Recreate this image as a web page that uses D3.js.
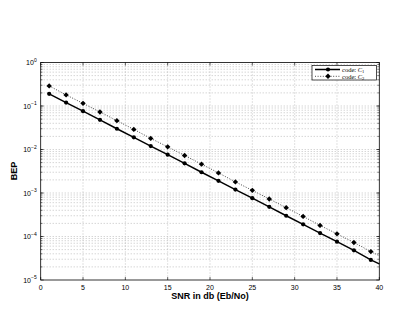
<!DOCTYPE html>
<html><head><meta charset="utf-8">
<script src="https://cdn.jsdelivr.net/npm/d3@7"></script>
<style>body{margin:0;background:#fff}svg{display:block}</style>
</head><body><svg id="c" width="415" height="312"></svg>
<script>
const snr = [1,3,5,7,9,11,13,15,17,19,21,23,25,27,29,31,33,35,37,39,40];
const bepC1 = [0.19,0.12,0.076,0.048,0.030,0.019,0.012,0.0076,0.0048,0.0030,0.0019,0.0012,7.6e-4,4.8e-4,3.0e-4,1.9e-4,1.2e-4,7.6e-5,4.8e-5,2.9e-5,2.35e-5];
const bepC2 = [0.29,0.18,0.115,0.073,0.046,0.029,0.018,0.0115,0.0073,0.0046,0.0029,0.0018,1.15e-3,7.3e-4,4.6e-4,2.9e-4,1.8e-4,1.15e-4,7.3e-5,4.5e-5,3.6e-5];
const xTicks = [0,5,10,15,20,25,30,35,40];
const yExps = [0,-1,-2,-3,-4,-5];
const seriesNames = ["C","C"];
const seriesSubs = ["1","2"];

const svg = d3.select("#c");
const L=40.7, R=379.3, T=62.5, B=280;
const x = d3.scaleLinear().domain([0,40]).range([L,R]);
const y = d3.scaleLog().domain([1e-5,1]).range([B,T]);

// grid
const g = svg.append("g");
xTicks.slice(1,-1).forEach(v=>{
  g.append("line").attr("x1",x(v)).attr("x2",x(v)).attr("y1",T).attr("y2",B)
   .attr("stroke","#aaa").attr("stroke-width",0.7).attr("stroke-dasharray","1,2");
});
const minorVals=[];
for(let e=-5;e<0;e++){for(let m=1;m<10;m++){const v=m*Math.pow(10,e); if(v>1e-5) minorVals.push(v);}}
minorVals.forEach(v=>{
  g.append("line").attr("x1",L).attr("x2",R).attr("y1",y(v)).attr("y2",y(v))
   .attr("stroke","#aaa").attr("stroke-width",0.7).attr("stroke-dasharray","1,2");
});

// axes box
svg.append("rect").attr("x",L).attr("y",T).attr("width",R-L).attr("height",B-T)
 .attr("fill","none").attr("stroke","#000").attr("stroke-width",0.8);

// x ticks
const xa = svg.append("g");
xTicks.forEach(v=>{
  xa.append("line").attr("x1",x(v)).attr("x2",x(v)).attr("y1",B).attr("y2",B-3).attr("stroke","#000").attr("stroke-width",0.6);
  xa.append("line").attr("x1",x(v)).attr("x2",x(v)).attr("y1",T).attr("y2",T+3).attr("stroke","#000").attr("stroke-width",0.6);
  xa.append("text").attr("x",x(v)).attr("y",B+10).attr("text-anchor","middle")
    .attr("font-family","Liberation Sans, Arial, sans-serif").attr("font-size",7).text(v);
});
// y ticks
const ya = svg.append("g");
yExps.forEach(e=>{
  const v=Math.pow(10,e);
  ya.append("line").attr("x1",L).attr("x2",L+3).attr("y1",y(v)).attr("y2",y(v)).attr("stroke","#000").attr("stroke-width",0.6);
  ya.append("line").attr("x1",R).attr("x2",R-3).attr("y1",y(v)).attr("y2",y(v)).attr("stroke","#000").attr("stroke-width",0.6);
  const t = ya.append("text").attr("x",L-4).attr("y",y(v)+2.5).attr("text-anchor","end")
    .attr("font-family","Liberation Sans, Arial, sans-serif").attr("font-size",7);
  t.append("tspan").text("10");
  t.append("tspan").attr("dy",-3.5).attr("font-size",5).text(String(e).replace("-","\u2212"));
});
minorVals.forEach(v=>{
  ya.append("line").attr("x1",L).attr("x2",L+1.8).attr("y1",y(v)).attr("y2",y(v)).attr("stroke","#000").attr("stroke-width",0.5);
  ya.append("line").attr("x1",R).attr("x2",R-1.8).attr("y1",y(v)).attr("y2",y(v)).attr("stroke","#000").attr("stroke-width",0.5);
});

// series
const pts1 = snr.map((s,i)=>[s,bepC1[i]]);
const pts2 = snr.map((s,i)=>[s,bepC2[i]]);
const line = d3.line().x(d=>x(d[0])).y(d=>y(d[1]));
svg.append("path").datum(pts2).attr("d",line).attr("fill","none").attr("stroke","#333").attr("stroke-width",0.9).attr("stroke-dasharray","1,1.6");
svg.append("path").datum(pts1).attr("d",line).attr("fill","none").attr("stroke","#000").attr("stroke-width",1.5);
const mk1 = pts1.filter(d=>d[0]%2===1);
const mk2 = pts2.filter(d=>d[0]%2===1);
svg.selectAll(".m1").data(mk1).enter().append("circle").attr("cx",d=>x(d[0])).attr("cy",d=>y(d[1])).attr("r",2.1).attr("fill","#000");
const dia = "M0,-2.7L2.7,0L0,2.7L-2.7,0Z";
svg.selectAll(".m2").data(mk2).enter().append("path").attr("d",dia).attr("transform",d=>`translate(${x(d[0])},${y(d[1])})`).attr("fill","#000");

// legend
const lg = svg.append("g");
lg.append("rect").attr("x",312).attr("y",65.5).attr("width",64.5).attr("height",14.5).attr("fill","#fff").attr("stroke","#000").attr("stroke-width",0.7);
[0,1].forEach(i=>{
  const yy = 69.5+i*6.8;
  lg.append("line").attr("x1",315).attr("x2",340).attr("y1",yy).attr("y2",yy)
    .attr("stroke",i?"#333":"#000").attr("stroke-width",i?0.9:1.5).attr("stroke-dasharray",i?"1,1.6":null);
  if(i===0) lg.append("circle").attr("cx",328).attr("cy",yy).attr("r",2.1).attr("fill","#000");
  else lg.append("path").attr("d",dia).attr("transform",`translate(328,${yy})`).attr("fill","#000");
  const t = lg.append("text").attr("x",342).attr("y",yy+2.3).attr("font-family","Liberation Serif, Times New Roman, serif").attr("font-size",6.5);
  t.append("tspan").text("code: ");
  t.append("tspan").attr("font-style","italic").text(seriesNames[i]);
  t.append("tspan").attr("dy",1.5).attr("font-size",4.5).text(seriesSubs[i]);
});

// axis labels
svg.append("text").attr("x",(L+R)/2).attr("y",299).attr("text-anchor","middle")
  .attr("font-family","Liberation Sans, Arial, sans-serif").attr("font-weight","bold").attr("font-size",9).text("SNR in db (Eb/No)");
svg.append("text").attr("transform","translate(17,171) rotate(-90)").attr("text-anchor","middle")
  .attr("font-family","Liberation Sans, Arial, sans-serif").attr("font-weight","bold").attr("font-size",9).text("BEP");
</script></body></html>
